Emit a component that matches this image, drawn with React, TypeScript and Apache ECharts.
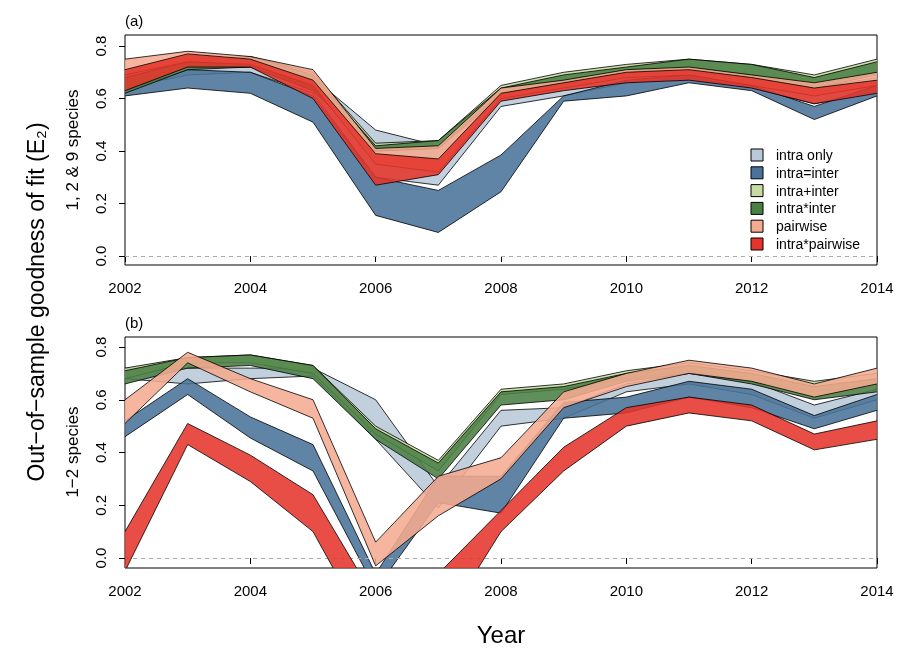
import * as echarts from 'echarts';
import { useEffect, useRef } from 'react';

const years = [2002, 2003, 2004, 2005, 2006, 2007, 2008, 2009, 2010, 2011, 2012, 2013, 2014];
const names = ['intra only', 'intra=inter', 'intra+inter', 'intra*inter', 'pairwise', 'intra*pairwise'];
const colors = ['#b9c9da', '#4a7399', '#c6dca2', '#4b8044', '#f5ab91', '#e5352b'];

// panel (a): 1, 2 & 9 species, lower and upper edge per year
const aIntraOnlyLo = [0.64, 0.69, 0.70, 0.62, 0.30, 0.27, 0.57, 0.61, 0.66, 0.68, 0.64, 0.58, 0.63];
const aIntraOnlyHi = [0.68, 0.74, 0.74, 0.68, 0.48, 0.42, 0.63, 0.66, 0.70, 0.72, 0.69, 0.64, 0.68];
const aEqLo = [0.61, 0.64, 0.62, 0.51, 0.155, 0.09, 0.245, 0.59, 0.61, 0.66, 0.63, 0.52, 0.61];
const aEqHi = [0.63, 0.71, 0.70, 0.61, 0.30, 0.25, 0.385, 0.61, 0.67, 0.69, 0.65, 0.57, 0.65];
const aPlusLo = [0.63, 0.72, 0.72, 0.64, 0.40, 0.41, 0.62, 0.66, 0.70, 0.72, 0.69, 0.65, 0.70];
const aPlusHi = [0.69, 0.75, 0.76, 0.70, 0.43, 0.44, 0.65, 0.70, 0.73, 0.75, 0.73, 0.69, 0.75];
const aTimesLo = [0.62, 0.71, 0.72, 0.63, 0.40, 0.41, 0.61, 0.65, 0.69, 0.70, 0.68, 0.64, 0.69];
const aTimesHi = [0.68, 0.74, 0.76, 0.69, 0.42, 0.44, 0.64, 0.69, 0.72, 0.75, 0.73, 0.68, 0.74];
const aPairLo = [0.69, 0.74, 0.73, 0.65, 0.35, 0.32, 0.60, 0.64, 0.68, 0.69, 0.65, 0.61, 0.65];
const aPairHi = [0.75, 0.78, 0.76, 0.71, 0.41, 0.42, 0.64, 0.67, 0.71, 0.72, 0.69, 0.66, 0.70];
const aIpLo = [0.63, 0.72, 0.72, 0.60, 0.27, 0.31, 0.59, 0.63, 0.66, 0.67, 0.64, 0.58, 0.62];
const aIpHi = [0.71, 0.77, 0.75, 0.67, 0.39, 0.37, 0.62, 0.66, 0.70, 0.71, 0.68, 0.64, 0.67];

// panel (b): 1-2 species
const bIntraOnlyLo = [0.68, 0.66, 0.68, 0.69, 0.45, 0.19, 0.50, 0.53, 0.63, 0.66, 0.62, 0.53, 0.60];
const bIntraOnlyHi = [0.72, 0.72, 0.72, 0.72, 0.60, 0.27, 0.56, 0.57, 0.66, 0.70, 0.67, 0.58, 0.64];
const bEqLo = [0.46, 0.62, 0.455, 0.33, -0.12, 0.21, 0.17, 0.53, 0.55, 0.61, 0.57, 0.49, 0.56];
const bEqHi = [0.52, 0.68, 0.535, 0.43, -0.06, 0.31, 0.31, 0.59, 0.61, 0.67, 0.64, 0.54, 0.62];
const bPlusLo = [0.68, 0.74, 0.74, 0.70, 0.47, 0.33, 0.62, 0.64, 0.68, 0.71, 0.67, 0.63, 0.66];
const bPlusHi = [0.72, 0.76, 0.77, 0.73, 0.50, 0.37, 0.64, 0.66, 0.71, 0.74, 0.71, 0.67, 0.70];
const bTimesLo = [0.66, 0.72, 0.73, 0.68, 0.45, 0.30, 0.58, 0.60, 0.67, 0.70, 0.66, 0.60, 0.63];
const bTimesHi = [0.71, 0.76, 0.77, 0.73, 0.49, 0.36, 0.63, 0.65, 0.70, 0.73, 0.70, 0.65, 0.68];
const bPairLo = [0.51, 0.74, 0.63, 0.53, -0.03, 0.16, 0.30, 0.57, 0.65, 0.70, 0.67, 0.61, 0.66];
const bPairHi = [0.60, 0.78, 0.68, 0.60, 0.06, 0.31, 0.38, 0.63, 0.70, 0.75, 0.72, 0.66, 0.72];
const bIpLo = [-0.05, 0.43, 0.29, 0.10, -0.33, -0.28, 0.10, 0.33, 0.50, 0.55, 0.52, 0.41, 0.45];
const bIpHi = [0.10, 0.51, 0.39, 0.24, -0.16, -0.06, 0.18, 0.42, 0.57, 0.61, 0.58, 0.47, 0.52];

const yTicks = [0, 0.2, 0.4, 0.6, 0.8];
const font = 'Liberation Sans, Arial, sans-serif';

const bands = (idx: number, lows: number[][], highs: number[][]) =>
    lows.map((lo, i) => {
        const hi = highs[i];
        return {
            type: 'custom',
            name: `${names[i]} ${idx}`,
            xAxisIndex: idx,
            yAxisIndex: idx,
            clip: true,
            silent: true,
            z: 2 + i,
            data: years.map((y, k) => [y, lo[k], hi[k]]),
            renderItem: (params: any, api: any) => {
                if (params.dataIndex !== 0) return null;
                const low = years.map((y, k) => api.coord([y, lo[k]]));
                const high = years.map((y, k) => api.coord([y, hi[k]]));
                return {
                    type: 'group',
                    children: [
                        {
                            type: 'polygon',
                            shape: { points: [...low, ...high.slice().reverse()] },
                            style: { fill: colors[i], opacity: 0.88 },
                        },
                        { type: 'polyline', shape: { points: low }, style: { fill: 'none', stroke: '#000', lineWidth: 0.8 } },
                        { type: 'polyline', shape: { points: high }, style: { fill: 'none', stroke: '#000', lineWidth: 0.8 } },
                    ],
                };
            },
        };
    });

const App = () => {
    const chartRef = useRef<HTMLDivElement>(null);

    useEffect(() => {
        if (!chartRef.current) return;
        const chart = echarts.init(chartRef.current, null, { renderer: 'svg' });

        const grids = [
            { left: 125, top: 35, width: 752, height: 230 },
            { left: 125, top: 337, width: 752, height: 231 },
        ];
        const yRanges = [
            [-0.034, 0.842],
            [-0.038, 0.838],
        ];

        const legendItems = names.flatMap((n, i) => [
            {
                type: 'rect',
                shape: { x: 751, y: 149 + i * 17.8, width: 12, height: 12 },
                style: { fill: colors[i], stroke: '#000', lineWidth: 1 },
            },
            {
                type: 'text',
                x: 776,
                y: 155 + i * 17.8,
                style: { text: n, font: `14px ${font}`, fill: '#000', verticalAlign: 'middle' },
            },
        ]);

        chart.setOption({
            animation: false,
            grid: grids.map((g) => ({ ...g, show: true, borderColor: '#000', borderWidth: 1 })),
            xAxis: grids.map((_, i) => ({
                type: 'value',
                gridIndex: i,
                min: 2002,
                max: 2014,
                interval: 2,
                axisLine: { show: false },
                axisTick: { show: true, length: 6, lineStyle: { color: '#000' } },
                axisLabel: { color: '#000', fontSize: 15, fontFamily: font, margin: 15, formatter: (v: number) => String(v) },
                splitLine: { show: false },
            })),
            yAxis: grids.map((_, i) => ({
                type: 'value',
                gridIndex: i,
                min: yRanges[i][0],
                max: yRanges[i][1],
                axisLine: { show: false },
                axisTick: { show: true, length: 6, customValues: yTicks, lineStyle: { color: '#000' } },
                axisLabel: {
                    customValues: yTicks,
                    rotate: 90,
                    color: '#000',
                    fontSize: 15,
                    fontFamily: font,
                    margin: 17,
                    formatter: (v: number) => v.toFixed(1),
                },
                splitLine: { show: false },
            })),
            graphic: [
                { type: 'text', x: 125, y: 20, style: { text: '(a)', font: `15px ${font}`, fill: '#000', verticalAlign: 'middle' } },
                { type: 'text', x: 125, y: 322, style: { text: '(b)', font: `15px ${font}`, fill: '#000', verticalAlign: 'middle' } },
                {
                    type: 'text', x: 72, y: 150, rotation: Math.PI / 2,
                    style: { text: '1, 2 & 9 species', font: `17px ${font}`, fill: '#000', align: 'center', verticalAlign: 'middle' },
                },
                {
                    type: 'text', x: 72, y: 452, rotation: Math.PI / 2,
                    style: { text: '1\u22122 species', font: `17px ${font}`, fill: '#000', align: 'center', verticalAlign: 'middle' },
                },
                {
                    type: 'text', x: 36, y: 302, rotation: Math.PI / 2,
                    style: { text: 'Out\u2212of\u2212sample goodness of fit (E\u2082)', font: `23px ${font}`, fill: '#000', align: 'center', verticalAlign: 'middle' },
                },
                {
                    type: 'text', x: 501, y: 634,
                    style: { text: 'Year', font: `24px ${font}`, fill: '#000', align: 'center', verticalAlign: 'middle' },
                },
                ...legendItems,
            ],
            series: [
                ...bands(0,
                    [aIntraOnlyLo, aEqLo, aPlusLo, aTimesLo, aPairLo, aIpLo],
                    [aIntraOnlyHi, aEqHi, aPlusHi, aTimesHi, aPairHi, aIpHi]),
                ...bands(1,
                    [bIntraOnlyLo, bEqLo, bPlusLo, bTimesLo, bPairLo, bIpLo],
                    [bIntraOnlyHi, bEqHi, bPlusHi, bTimesHi, bPairHi, bIpHi]),
                ...[0, 1].map((i) => ({
                    type: 'line',
                    name: `zero ${i}`,
                    xAxisIndex: i,
                    yAxisIndex: i,
                    data: [],
                    markLine: {
                        silent: true,
                        symbol: 'none',
                        label: { show: false },
                        lineStyle: { color: '#aaa', type: [4, 4], width: 1 },
                        data: [{ yAxis: 0 }],
                    },
                    z: 1,
                })),
            ],
        });

        return () => chart.dispose();
    }, []);

    return <div ref={chartRef} style={{ position: 'fixed', left: 0, top: 0, width: 914, height: 653 }} />;
};

export default App;
